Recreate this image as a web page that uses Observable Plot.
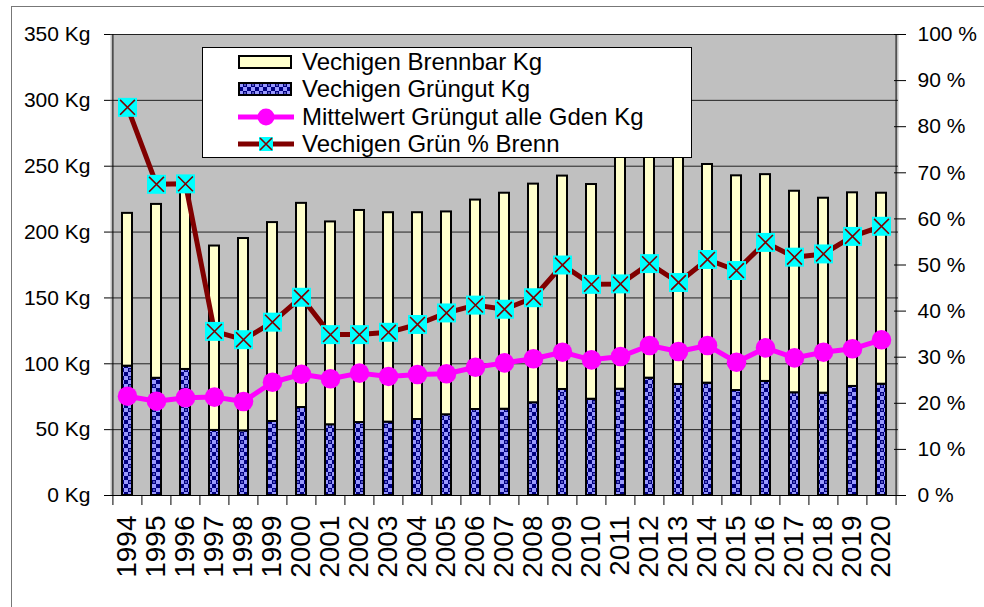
<!DOCTYPE html>
<html>
<head>
<meta charset="utf-8">
<script src="https://cdn.jsdelivr.net/npm/d3@7"></script>
<script src="https://cdn.jsdelivr.net/npm/@observablehq/plot@0.6"></script>
<style>
  html, body { margin: 0; padding: 0; background: #fff; }
  #wrap { position: relative; width: 984px; height: 607px; overflow: hidden; font-family: "Liberation Sans", Arial, sans-serif; }
  #outer { position: absolute; left: 11px; top: 6px; width: 990px; height: 620px; border-left: 1px solid #777; border-top: 1px solid #777; pointer-events: none; }
  #legend { position: absolute; left: 202px; top: 47px; width: 490px; height: 111px; box-sizing: border-box; background: #fff; border: 1px solid #000; }
  #legend .row { position: absolute; left: 0; height: 28px; width: 100%; }
  #legend .row svg { position: absolute; left: 0; top: 0; }
  #legend .row span { position: absolute; left: 99px; top: 0; line-height: 28px; font-size: 24px; color: #000; white-space: nowrap; }
</style>
</head>
<body>
<div id="wrap">
  <div id="chart"></div>
  <div id="outer"></div>
  <div id="legend"></div>
</div>
<script>
// ---- Data ----
const years = [1994, 1995, 1996, 1997, 1998, 1999, 2000, 2001, 2002, 2003, 2004, 2005, 2006, 2007,
               2008, 2009, 2010, 2011, 2012, 2013, 2014, 2015, 2016, 2017, 2018, 2019, 2020];
const brennbarKg = [116, 132, 142, 140, 146, 151, 155, 154, 161, 159, 157, 154, 159, 164,
                    166, 162, 163, 176, 177, 182, 166, 163, 157, 153, 148, 147, 145];
const gruengutKg = [98.2, 89, 95.7, 49.4, 49.1, 56.2, 66.8, 53.7, 55.4, 55.7, 57.7, 61.3, 65.3, 65.5,
                    70.4, 80.5, 73.1, 80.7, 89.1, 84.3, 85.3, 79.7, 86.6, 78, 77.7, 82.8, 84.5];
const mittelwertKg = [75.4, 71.6, 74.2, 74.7, 71.4, 86.0, 92, 88.6, 92.9, 90.4, 91.9, 92.4, 97.4, 100.7,
                      103.8, 108.8, 103, 105.5, 113.9, 109.3, 113.9, 101.2, 112.1, 104.5, 108.8, 111.4, 118.2];
const gruenPctBrenn = [84.2, 67.5, 67.6, 35.6, 33.8, 37.6, 43.0, 34.9, 34.9, 35.4, 37.1, 39.6, 41.3, 40.4,
                       42.9, 50.0, 45.8, 45.9, 50.3, 46.2, 51.2, 48.8, 54.9, 51.7, 52.4, 56.2, 58.4];
const kgTicks = [0, 50, 100, 150, 200, 250, 300, 350];
const pctTicks = [0, 10, 20, 30, 40, 50, 60, 70, 80, 90, 100];
const seriesNames = ["Vechigen Brennbar Kg", "Vechigen Grüngut Kg", "Mittelwert Grüngut alle Gden Kg", "Vechigen Grün % Brenn"];

// ---- Derived tables ----
const kgMax = kgTicks[kgTicks.length - 1];
const pctMax = pctTicks[pctTicks.length - 1];
const k = kgMax / pctMax; // percent -> Kg axis space
const stacked = years.flatMap((y, i) => [
  {year: y, series: "Grüngut", value: gruengutKg[i]},
  {year: y, series: "Brennbar", value: brennbarKg[i]}
]);
const rows = years.map((y, i) => ({year: y, mittel: mittelwertKg[i], pct: gruenPctBrenn[i]}));

const W = 984, H = 607, mL = 110, mR = 86, mT = 34, mB = 112;
const step = (W - mL - mR) / years.length;
const font = "'Liberation Sans', Arial, sans-serif";

const patternDef = '<pattern id="gpat" width="8" height="8" patternUnits="userSpaceOnUse">' +
  '<rect width="8" height="8" fill="#9999ff"/>' +
  '<rect x="0" y="0" width="4" height="4" fill="#000080"/>' +
  '<rect x="4" y="4" width="4" height="4" fill="#000080"/>' +
  '<rect x="1" y="1.5" width="2" height="1" fill="#b0b0ff"/>' +
  '</pattern>';

const chart = Plot.plot({
  width: W, height: H,
  marginLeft: mL, marginRight: mR, marginTop: mT, marginBottom: mB,
  style: {fontFamily: font, fontSize: "20px", color: "#000", background: "#fff", overflow: "visible"},
  x: {type: "band", domain: years, paddingInner: 0.66, paddingOuter: 0.33, label: null},
  y: {domain: [0, kgMax], label: null},
  color: {domain: ["Brennbar", "Grüngut"], range: ["#ffffcc", "url(#gpat)"]},
  marks: [
    Plot.frame({fill: "#c0c0c0", stroke: null}),
    Plot.ruleY(kgTicks, {stroke: "#222", strokeWidth: 1}),
    Plot.barY(stacked, Plot.stackY({x: "year", y: "value", fill: "series", order: ["Grüngut", "Brennbar"], stroke: "#000", strokeWidth: 2})),
    Plot.ruleY([0], {stroke: "#000", strokeWidth: 1}),
    Plot.ruleX([years[0]], {dx: -step / 2, stroke: "#000", strokeWidth: 1}),
    Plot.ruleX([years[years.length - 1]], {dx: step / 2, stroke: "#000", strokeWidth: 1}),
    // x ticks at category boundaries
    Plot.axisX(years, {tickSize: 10, tickFormat: () => "", label: null, dx: -step / 2, stroke: "#000"}),
    Plot.axisX([years[years.length - 1]], {tickSize: 10, tickFormat: () => "", label: null, dx: step / 2, stroke: "#000"}),
    // x labels
    Plot.axisX(years, {tickSize: 0, tickRotate: -90, tickPadding: 20, fontSize: 28, label: null, tickFormat: d => String(d), fill: "#000"}),
    // left axis
    Plot.axisY(kgTicks, {anchor: "left", tickSize: 6, tickPadding: 14, fontSize: 21, label: null, tickFormat: d => d + " Kg", stroke: "#000", fill: "#000"}),
    // right axis (percent)
    Plot.axisY(pctTicks.map(p => p * k), {anchor: "right", tickSize: 12, dx: -5, tickPadding: 12, fontSize: 21, label: null,
      tickFormat: d => Math.round(d / k) + " %", stroke: "#000", fill: "#000"}),
    // Mittelwert line
    Plot.line(rows, {x: "year", y: "mittel", stroke: "#ff00ff", strokeWidth: 5}),
    Plot.dot(rows, {x: "year", y: "mittel", r: 9.8, fill: "#ff00ff", stroke: null}),
    // Grün % Brenn line on right axis
    Plot.line(rows, {x: "year", y: d => d.pct * k, stroke: "#800000", strokeWidth: 5}),
    Plot.dot(rows, {x: "year", y: d => d.pct * k, symbol: "square", r: 10.7, fill: "#00ffff", stroke: null}),
    Plot.dot(rows, {x: "year", y: d => d.pct * k, symbol: "times", r: 6.8, stroke: "#800000", strokeWidth: 1.6})
  ]
});
d3.select(chart).insert("defs", ":first-child").html(patternDef);
document.getElementById("chart").appendChild(chart);

// ---- Legend (inside plot area, above bars) ----
const legend = d3.select("#legend");
const rowTops = [0, 27.5, 55, 82.5];
const legendKinds = ["bar-b", "bar-g", "line-m", "line-p"];
seriesNames.forEach((name, i) => {
  const row = legend.append("div").attr("class", "row").style("top", (rowTops[i] - 0.5) + "px");
  const s = row.append("svg").attr("width", 98).attr("height", 28);
  const cy = 14;
  const kind = legendKinds[i];
  if (kind === "bar-b" || kind === "bar-g") {
    if (kind === "bar-g") {
      s.append("defs").html(patternDef.replace('id="gpat"', 'id="gpat2"'));
    }
    s.append("rect").attr("x", 36).attr("y", cy - 6).attr("width", 52).attr("height", 12)
      .attr("fill", kind === "bar-b" ? "#ffffcc" : "url(#gpat2)").attr("stroke", "#000").attr("stroke-width", 2);
  } else if (kind === "line-m") {
    s.append("line").attr("x1", 35).attr("x2", 91).attr("y1", cy).attr("y2", cy).attr("stroke", "#ff00ff").attr("stroke-width", 5);
    s.append("circle").attr("cx", 63).attr("cy", cy).attr("r", 8.5).attr("fill", "#ff00ff");
  } else {
    s.append("line").attr("x1", 35).attr("x2", 91).attr("y1", cy).attr("y2", cy).attr("stroke", "#800000").attr("stroke-width", 5);
    s.append("rect").attr("x", 56).attr("y", cy - 7).attr("width", 14).attr("height", 14).attr("fill", "#00ffff");
    s.append("path").attr("d", `M${57},${cy - 6}L${69},${cy + 6}M${57},${cy + 6}L${69},${cy - 6}`)
      .attr("stroke", "#800000").attr("stroke-width", 1.6);
  }
  row.append("span").text(name);
});
</script>
</body>
</html>
